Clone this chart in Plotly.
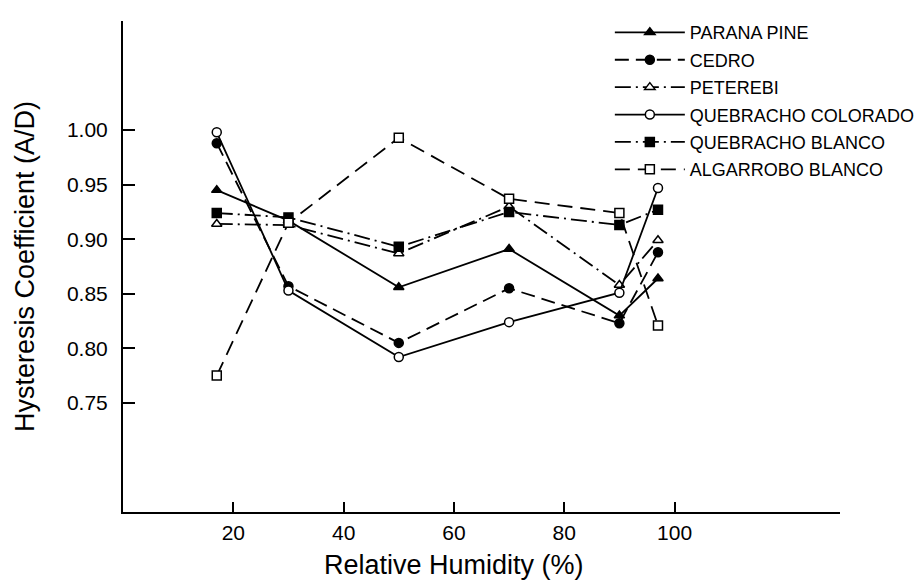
import plotly.graph_objects as go

rh = [17, 30, 50, 70, 90, 97]
series_names = ["PARANA PINE", "CEDRO", "PETEREBI", "QUEBRACHO COLORADO",
                "QUEBRACHO BLANCO", "ALGARROBO BLANCO"]
parana = [0.945, 0.917, 0.856, 0.891, 0.830, 0.864]
cedro = [0.988, 0.857, 0.805, 0.855, 0.823, 0.888]
peterebi = [0.914, 0.913, 0.887, 0.930, 0.858, 0.899]
quebracho_colorado = [0.998, 0.853, 0.792, 0.824, 0.851, 0.947]
quebracho_blanco = [0.924, 0.920, 0.893, 0.925, 0.913, 0.927]
algarrobo = [0.775, 0.915, 0.993, 0.937, 0.924, 0.821]

x_ticks = [20, 40, 60, 80, 100]
y_ticks = [0.75, 0.80, 0.85, 0.90, 0.95, 1.00]

styles = [
    dict(symbol="triangle-up", fill="black", dash="solid"),
    dict(symbol="circle", fill="black", dash="14px,7px"),
    dict(symbol="triangle-up", fill="white", dash="16px,5px,2px,5px"),
    dict(symbol="circle", fill="white", dash="solid"),
    dict(symbol="square", fill="black", dash="16px,5px,2px,5px"),
    dict(symbol="square", fill="white", dash="15px,8px"),
]
values = [parana, cedro, peterebi, quebracho_colorado, quebracho_blanco, algarrobo]

fig = go.Figure()
for i, (name, vals, st) in enumerate(zip(series_names, values, styles)):
    fig.add_trace(go.Scatter(
        x=rh, y=vals, name=name, mode="lines+markers",
        legendgroup=f"g{i}",
        line=dict(color="black", width=1.8, dash=st["dash"]),
        marker=dict(symbol=st["symbol"], size=9, color=st["fill"],
                    line=dict(color="black", width=1.5)),
    ))

font_family = "Liberation Sans, Arial, sans-serif"
fig.update_layout(
    width=922, height=580,
    margin=dict(l=115, r=90, t=6, b=76),
    paper_bgcolor="white", plot_bgcolor="white",
    font=dict(family=font_family, color="black", size=21),
    showlegend=True,
    legend=dict(
        x=0.679, y=1.014, xanchor="left", yanchor="top",
        font=dict(size=18, family=font_family, color="black"),
        traceorder="grouped", tracegroupgap=1,
        bgcolor="rgba(0,0,0,0)", itemwidth=70,
    ),
    xaxis=dict(
        range=[0, 130], tickvals=x_ticks, ticktext=[str(v) for v in x_ticks],
        showgrid=False, zeroline=False, showline=True, linecolor="black",
        linewidth=2, ticks="inside", ticklen=10, tickwidth=2, tickcolor="black",
        tickfont=dict(size=21), ticklabelstandoff=1,
    ),
    yaxis=dict(
        range=[0.65, 1.10], tickvals=y_ticks, ticktext=[f"{v:.2f}" for v in y_ticks],
        showgrid=False, zeroline=False, showline=True, linecolor="black",
        linewidth=2, ticks="inside", ticklen=12, tickwidth=2, tickcolor="black",
        tickfont=dict(size=21), ticklabelstandoff=9,
        title=dict(text="Hysteresis Coefficient (A/D)", font=dict(size=27), standoff=24),
    ),
    annotations=[dict(
        text="Relative Humidity (%)", xref="paper", yref="paper",
        x=0.4616, y=-0.1084, xanchor="center", yanchor="middle",
        showarrow=False, font=dict(size=27, family=font_family, color="black"),
    )],
)

fig.write_html("out.html")
